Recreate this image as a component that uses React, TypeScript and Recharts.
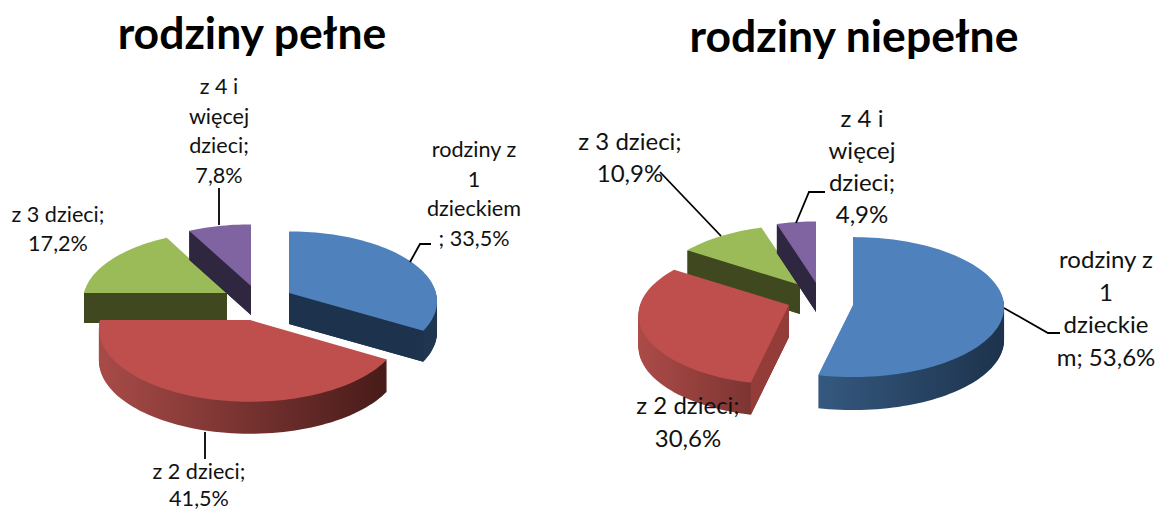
// App.tsx
import { PieChart, Pie } from "recharts";

const categories = ["z 3 dzieci", "z 4 i więcej dzieci", "rodziny z 1 dzieckiem", "z 2 dzieci"];
const pelneValues = [17.2, 7.8, 33.5, 41.5];
const niepelneValues = [10.9, 4.9, 53.6, 30.6];

const pelneLabels = [
    ["z 3 dzieci;", "17,2%"],
    ["z 4 i", "więcej", "dzieci;", "7,8%"],
    ["rodziny z", "1", "dzieckiem", "; 33,5%"],
    ["z 2 dzieci;", "41,5%"],
];
const niepelneLabels = [
    ["z 3 dzieci;", "10,9%"],
    ["z 4 i", "więcej", "dzieci;", "4,9%"],
    ["rodziny z", "1", "dzieckie", "m; 53,6%"],
    ["z 2 dzieci;", "30,6%"],
];

const TOP_COLORS = ["#9bbb59", "#8064a2", "#4f81bd", "#bf4f4c"];
const FONT = "Lato, sans-serif";

// apex position + fake 3d look of each slice (tilt, perspective, wall height)
const pelneShapes = [
    { ax: 227, ay: 293, rx: 143, ry: 70, p: 0.12, depth: 30, wall: ["#40481f", "#40481f"], face: "#40481f" },
    { ax: 251, ay: 286, rx: 147, ry: 70, p: 0.12, depth: 29, wall: ["#2f2640", "#2f2640"], face: "#2f2640" },
    { ax: 289, ay: 293, rx: 147, ry: 70, p: 0.12, depth: 31, wall: ["#1f3550", "#1f3550"], face: "#1d324c" },
    { ax: 250, ay: 320, rx: 150, ry: 73, p: 0.12, depth: 32, wall: ["#a84b48", "#471b19"], face: "#471b19" },
];
const niepelneShapes = [
    { ax: 800, ay: 285, rx: 144, ry: 68, p: 0.12, depth: 29, wall: ["#40481f", "#40481f"], face: "#40481f" },
    { ax: 816, ay: 283, rx: 146, ry: 70, p: 0.12, depth: 29, wall: ["#2f2640", "#2f2640"], face: "#2f2640" },
    { ax: 853, ay: 305, rx: 151, ry: 70, p: 0.03, depth: 33, wall: ["#35597f", "#1d324c"], face: "#1d324c" },
    { ax: 789, ay: 305, rx: 149, ry: 70, p: 0.145, depth: 32, wall: ["#ac4b48", "#6d2d2a"], face: "#933c39" },
];

const pelneLabelPos = [
    { x: 58, y: 222, lh: 29 },
    { x: 219, y: 94, lh: 29.5 },
    { x: 474, y: 157, lh: 29.5 },
    { x: 199, y: 479, lh: 27 },
];
const niepelneLabelPos = [
    { x: 630, y: 150, lh: 32 },
    { x: 862, y: 127, lh: 32 },
    { x: 1106, y: 268, lh: 32.5 },
    { x: 688, y: 414, lh: 33 },
];

const pelneLeaders = [
    [],
    [[219, 188], [219, 225]],
    [[431, 244], [420, 244], [410, 262]],
    [[205, 432], [205, 459]],
];
const niepelneLeaders = [
    [[660, 172], [721, 236]],
    [[825, 192], [809, 192], [796, 223]],
    [[1004, 308], [1048, 333], [1060, 333]],
    [],
];

const rad = (deg: number) => (deg * Math.PI) / 180;

function SliceShape(props: any, shapes: any[], prefix: string) {
    const i = categories.indexOf(props.name);
    const s = shapes[i];
    const project = (deg: number) => {
        const u = Math.cos(rad(deg));
        const v = -Math.sin(rad(deg));
        const f = 1 + s.p * v;
        return [s.ax + s.rx * u * f, s.ay + s.ry * v * f];
    };
    const steps = Math.max(4, Math.ceil(Math.abs(props.endAngle - props.startAngle) / 2));
    const rim: number[][] = [];
    for (let k = 0; k <= steps; k++) {
        rim.push(project(props.startAngle + ((props.endAngle - props.startAngle) * k) / steps));
    }
    const outline = (dy: number) =>
        `M${s.ax},${s.ay + dy} ` + rim.map((q) => `L${q[0]},${q[1] + dy}`).join(" ") + " Z";
    const mid = project((props.startAngle + props.endAngle) / 2);
    const gradId = `${prefix}-wall-${i}`;

    const layers = [];
    for (let d = s.depth; d > 0; d--) {
        layers.push(<path key={d} d={outline(d)} fill={`url(#${gradId})`} />);
    }
    // cut faces, only the ones that look towards us
    const faces = [rim[0], rim[rim.length - 1]].map((q, k) => {
        const ex = q[0] - s.ax;
        const ey = q[1] - s.ay;
        const inner = ex * (mid[1] - s.ay) - ey * (mid[0] - s.ax);
        if (ex * inner > 0) return null;
        return (
            <path
                key={`face-${k}`}
                d={`M${s.ax},${s.ay} L${q[0]},${q[1]} L${q[0]},${q[1] + s.depth} L${s.ax},${s.ay + s.depth} Z`}
                fill={s.face}
            />
        );
    });

    return (
        <g>
            <defs>
                <linearGradient id={gradId} x1="0" y1="0" x2="1" y2="0">
                    <stop offset="0%" stopColor={s.wall[0]} />
                    <stop offset="100%" stopColor={s.wall[1]} />
                </linearGradient>
            </defs>
            {layers}
            {faces}
            <path d={outline(0)} fill={props.fill} />
        </g>
    );
}

function SliceLabel(props: any, lines: string[][], pos: any[], leaders: number[][][], size: number) {
    const i = props.index;
    const p = pos[i];
    return (
        <g key={`label-${i}`}>
            {leaders[i].length > 0 && (
                <polyline
                    points={leaders[i].map((q) => q.join(",")).join(" ")}
                    fill="none"
                    stroke="#000"
                    strokeWidth={1.8}
                />
            )}
            <text x={p.x} y={p.y} textAnchor="middle" fontFamily={FONT} fontSize={size} fill="#111">
                {lines[i].map((line, k) => (
                    <tspan key={k} x={p.x} y={p.y + k * p.lh}>
                        {line}
                    </tspan>
                ))}
            </text>
        </g>
    );
}

const toData = (values: number[]) =>
    categories.map((name, i) => ({ name, value: values[i], fill: TOP_COLORS[i] }));

// the first two slices sit left of 12 o'clock so the big ones get painted last
const startOf = (values: number[]) => 90 + ((values[0] + values[1]) / 100) * 360;

export default function App() {
    const startA = startOf(pelneValues);
    const startB = startOf(niepelneValues);
    return (
        <div style={{ position: "absolute", left: 0, top: 0, width: 1159, height: 511, background: "#fff" }}>
            <PieChart width={1159} height={511} margin={{ top: 0, right: 0, bottom: 0, left: 0 }}>
                <text x={252} y={49} textAnchor="middle" fontFamily={FONT} fontWeight={700} fontSize={44.5} fill="#000">
                    rodziny pełne
                </text>
                <text x={854} y={52} textAnchor="middle" fontFamily={FONT} fontWeight={700} fontSize={44.5} fill="#000">
                    rodziny niepełne
                </text>
                <Pie
                    data={toData(pelneValues)}
                    dataKey="value"
                    nameKey="name"
                    cx={250}
                    cy={300}
                    outerRadius={150}
                    startAngle={startA}
                    endAngle={startA - 360}
                    stroke="none"
                    isAnimationActive={false}
                    shape={(p: any) => SliceShape(p, pelneShapes, "a")}
                    labelLine={false}
                    label={(p: any) => SliceLabel(p, pelneLabels, pelneLabelPos, pelneLeaders, 21.6)}
                />
                <Pie
                    data={toData(niepelneValues)}
                    dataKey="value"
                    nameKey="name"
                    cx={820}
                    cy={300}
                    outerRadius={150}
                    startAngle={startB}
                    endAngle={startB - 360}
                    stroke="none"
                    isAnimationActive={false}
                    shape={(p: any) => SliceShape(p, niepelneShapes, "b")}
                    labelLine={false}
                    label={(p: any) => SliceLabel(p, niepelneLabels, niepelneLabelPos, niepelneLeaders, 24)}
                />
            </PieChart>
        </div>
    );
}
